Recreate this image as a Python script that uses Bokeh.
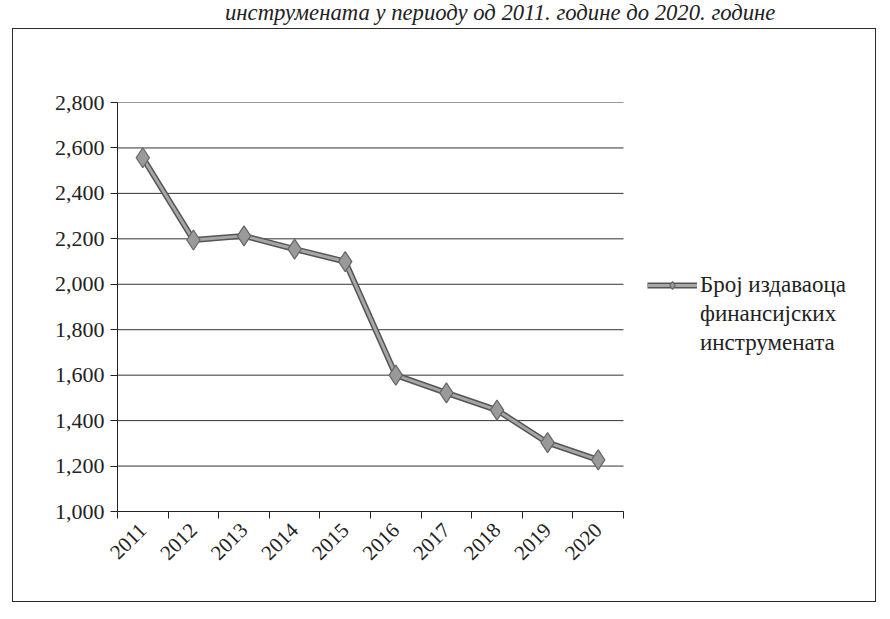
import math
from bokeh.plotting import figure
from bokeh.models import FixedTicker, Range1d, Legend, LegendItem, Div, NumeralTickFormatter, Spacer
from bokeh.layouts import column, row
from bokeh.embed import file_html
from bokeh.resources import INLINE

years = ["2011", "2012", "2013", "2014", "2015", "2016", "2017", "2018", "2019", "2020"]
issuers = [2557, 2195, 2213, 2155, 2100, 1600, 1522, 1446, 1303, 1227]
y_ticks = [1000, 1200, 1400, 1600, 1800, 2000, 2200, 2400, 2600, 2800]
series_lines = ["Број издаваоца", "финансијских", "инструмената"]
title_text = "инструмената у периоду од 2011. године до 2020. године"

FONT = "Liberation Serif"

xs = list(range(1, len(years) + 1))

FIG_W, FIG_H = 864, 574
LEFT, TOP, BOTTOM = 104, 73, 92
PLOT_W = 506  # width of the category area in px
frame_w = FIG_W - LEFT
cat_px = PLOT_W / len(years)
x_end = len(years) + 0.5 + (frame_w - PLOT_W) / cat_px

p = figure(width=FIG_W, height=FIG_H, output_backend="svg", toolbar_location=None,
           x_range=Range1d(0.5, x_end), y_range=Range1d(1000, 2800),
           min_border_left=LEFT, min_border_right=0, min_border_top=TOP, min_border_bottom=BOTTOM)
p.styles = {"border": "1.5px solid #2a2a2a"}
p.outline_line_color = None
p.background_fill_color = "white"
p.border_fill_color = "white"

# grid lines limited to the category area
p.xgrid.visible = False
p.ygrid.visible = False
p.segment(x0=[0.5] * len(y_ticks), x1=[len(years) + 0.5] * len(y_ticks),
          y0=y_ticks, y1=y_ticks, line_color="#333333", line_width=1)

# y axis
p.yaxis.ticker = FixedTicker(ticks=y_ticks)
p.yaxis.formatter = NumeralTickFormatter(format="0,0")
p.yaxis.axis_line_color = "#222222"
p.yaxis.major_tick_line_color = "#222222"
p.yaxis.major_tick_out = 7
p.yaxis.major_tick_in = 0
p.yaxis.minor_tick_line_color = None
p.yaxis.major_label_text_font = FONT
p.yaxis.major_label_text_font_size = "22px"
p.yaxis.major_label_text_color = "#222222"
p.yaxis.major_label_standoff = 6

# x axis: labels at category centres, tick marks at category boundaries
bounds = [x - 0.5 for x in xs] + [xs[-1] + 0.5]
p.xaxis.ticker = FixedTicker(ticks=xs, minor_ticks=bounds)
p.xaxis.bounds = (0.5, len(years) + 0.5)
p.xaxis.major_label_overrides = {x: y for x, y in zip(xs, years)}
p.xaxis.axis_line_color = "#222222"
p.xaxis.major_tick_line_color = None
p.xaxis.minor_tick_line_color = "#222222"
p.xaxis.minor_tick_out = 7
p.xaxis.minor_tick_in = 0
p.xaxis.major_label_orientation = math.pi / 4
p.xaxis.major_label_text_font = FONT
p.xaxis.major_label_text_font_size = "21px"
p.xaxis.major_label_text_color = "#222222"
p.xaxis.major_label_standoff = 8

# series: dark outlined grey line with diamond markers
l1 = p.line(xs, issuers, line_color="#555555", line_width=6)
l2 = p.line(xs, issuers, line_color="#a6a6a6", line_width=3)
m = p.scatter(xs, issuers, marker="diamond", size=20, fill_color="#9a9a9a",
              line_color="#666666", line_width=1.2)

items = [LegendItem(label=series_lines[0], renderers=[l1, l2, m])]
for extra in series_lines[1:]:
    items.append(LegendItem(label=extra, renderers=[]))

legend = Legend(items=items, location=(PLOT_W + 24, 155))
legend.border_line_color = None
legend.background_fill_alpha = 0
legend.label_text_font = FONT
legend.label_text_font_size = "23px"
legend.label_text_color = "#222222"
legend.label_height = 20
legend.glyph_height = 20
legend.spacing = 3
legend.glyph_width = 50
legend.label_standoff = 3
legend.padding = 0
legend.margin = 0
p.add_layout(legend, "center")

title = Div(text=title_text, width=860, height=18,
            styles={"font-family": FONT, "font-style": "italic", "font-size": "22.7px",
                    "line-height": "16px", "color": "#222222", "white-space": "nowrap",
                    "overflow": "visible", "padding-left": "220px"})

layout = column(title, row(Spacer(width=12, height=10), p, spacing=0), spacing=0)

open("out.html", "w").write(file_html(layout, INLINE))
